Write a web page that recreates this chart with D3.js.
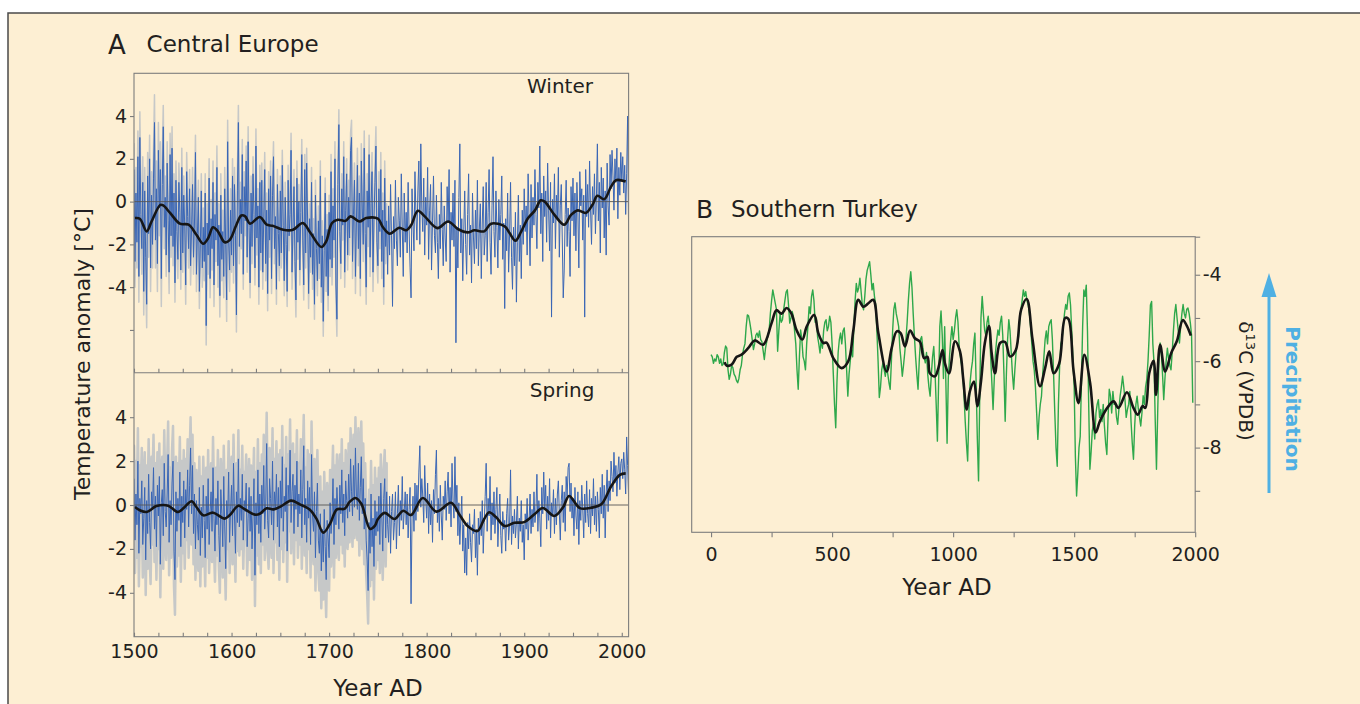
<!DOCTYPE html>
<html>
<head>
<meta charset="utf-8">
<script src="https://cdn.jsdelivr.net/npm/d3@7"></script>
<style>
  body { margin: 0; background: #fff; }
  svg text { font-family: "DejaVu Sans", sans-serif; fill: #231f20; }
</style>
</head>
<body>
<div class="container"></div>
<script>
// Central Europe, annual anomalies 1500-2007 (one row per decade)
const winter = [
  1.5, -2.8, 0.4, -1.9, 2.1, -3.5, 3.0, -0.6, -2.2, 0.9,
  -4.2, 0.5, -2.6, -4.8, 1.2, -1.5, 2.0, -3.1, 0.3, -2.0,
  1.1, 3.7, -1.8, 0.6, -2.9, 2.4, -0.3, 1.5, -3.6, 0.8,
  3.5, -1.2, 0.2, -2.5, 1.8, -0.9, -3.3, 2.2, -1.6, 2.5,
  -2.1, 0.4, -3.8, 1.0, -1.4, -2.7, 0.9, -0.5, -3.2, 1.6,
  -2.4, 0.3, -1.1, -3.9, 1.4, -0.7, -2.2, 0.6, -3.0, -1.3,
  0.8, -2.6, -1.0, 2.3, -3.4, -1.5, 0.2, -4.2, -2.0, 0.5,
  -3.1, -1.2, -2.8, 0.4, -5.8, -1.0, -2.5, 1.1, -3.6, -0.8,
  -2.2, 0.9, -3.9, -0.6, -1.8, 1.6, -3.0, -1.1, -4.4, 0.3,
  -2.7, -1.4, -3.5, 0.6, -2.0, -4.6, 2.8, -1.9, -3.2, -0.4,
  -2.5, 1.2, -3.0, 0.8, -1.6, -5.3, 0.5, 3.7, -2.1, 0.1,
  -1.5, 2.2, -3.4, 0.7, -0.9, 1.9, -2.6, 2.8, -1.2, -3.8,
  0.4, -2.1, 1.3, -0.6, -3.1, 2.6, -1.7, -0.2, -4.0, 0.9,
  -2.4, 1.0, -3.3, -0.8, 1.5, -2.9, -0.4, -4.3, 0.6, -1.8,
  1.2, -3.6, 0.3, 2.1, -2.2, -0.7, -4.1, 0.8, -1.5, -3.0,
  0.5, -2.4, 1.7, -1.1, -3.7, 0.2, -2.0, -4.2, 1.0, -1.6,
  -0.6, 2.4, -3.3, -1.2, 0.7, -2.8, -4.6, 1.1, -1.9, 0.0,
  -3.2, -0.5, 2.2, -1.8, -3.9, 1.5, -2.4, 1.8, -1.0, -4.3,
  -0.8, -2.6, 0.9, -3.4, -1.5, -4.8, 0.3, -2.2, -3.7, -0.9,
  -2.9, 1.2, -4.0, -1.6, -5.6, -2.3, 0.4, -3.5, -1.3, -4.4,
  -0.5, -2.7, 1.4, -3.1, -0.2, -1.8, 2.0, -3.9, -5.5, 0.8,
  3.6, -1.4, -2.9, 0.6, -1.1, 2.1, -3.3, -0.4, 1.3, -2.5,
  0.2, -1.7, 2.4, 3.0, -2.8, -0.6, 1.0, -3.5, -0.9, 1.7,
  -2.2, 0.4, -3.6, 1.9, -0.3, -2.0, 2.5, -1.5, -4.0, 0.5,
  -1.2, 2.2, -2.6, -0.1, 1.4, -3.3, -0.8, 0.9, 2.6, -1.9,
  -3.0, 0.6, -1.4, 1.5, -2.8, -0.4, -4.0, 1.1, -2.1, -0.9,
  -3.4, -0.2, -2.5, 0.8, -1.6, -4.9, -0.7, -2.2, 1.0, -1.8,
  -3.0, 0.2, -0.9, -2.6, 1.3, -1.2, -3.5, 0.4, -1.9, -0.5,
  -2.4, 0.9, -1.3, -3.1, -4.5, 0.6, -1.0, -2.3, 1.4, -0.6,
  -1.8, 0.5, 1.9, -2.0, 2.7, -0.3, -1.4, 1.1, -2.5, 0.2,
  -1.1, 1.6, -2.7, -0.4, 0.8, -3.2, -0.9, 1.2, -1.6, -2.4,
  0.3, -1.9, -3.6, -0.6, -2.2, 0.9, -1.3, -3.0, -0.2, -1.7,
  -2.8, 0.7, -1.0, 1.5, -3.3, -0.5, -1.8, 0.4, -2.1, 1.0,
  -6.6, -1.2, -3.1, 0.2, 2.7, -2.4, -0.8, -3.7, -1.4, 0.5,
  -2.0, -3.4, -0.6, 1.3, -2.5, -1.1, -3.8, 0.4, -1.7, -2.9,
  -0.4, -2.2, 1.0, -3.0, -1.3, -0.1, -3.6, -1.0, 0.7, -2.5,
  -1.6, 0.9, -2.8, -0.5, 1.5, -1.9, -3.4, -0.2, 2.1, -1.4,
  -2.6, 0.5, -1.2, -3.1, 0.1, -1.8, -0.6, 1.2, -2.7, -1.0,
  -5.0, -0.8, -2.3, 0.4, -3.3, -1.5, 0.9, -2.6, -4.1, -1.2,
  -3.0, -0.5, -4.7, -1.9, 0.3, -2.8, -1.1, -3.6, -0.4, -2.0,
  0.6, -1.4, -0.2, -2.5, 1.3, -0.9, -3.0, 0.8, -1.7, 0.2,
  -1.1, 1.5, -0.6, -2.2, 0.9, -0.3, 2.6, -1.5, 0.4, -2.8,
  1.2, -0.7, 0.5, -1.9, 1.8, -0.4, -2.3, 0.9, -5.4, 0.1,
  -1.0, 1.3, -2.2, 0.3, -0.8, 1.6, -2.6, -0.2, 0.8, -1.7,
  -4.5, -3.2, -0.6, 1.0, -2.1, -0.3, -1.4, -3.5, 0.7, -0.9,
  1.1, -1.6, 0.4, -2.3, 0.9, -0.5, -3.1, 1.4, -0.2, 0.6,
  -1.8, 0.3, -5.4, 1.5, -0.7, 0.8, -1.2, 1.9, -0.4, -2.0,
  0.7, -0.6, 1.3, -1.5, 0.2, 2.7, -0.9, 0.9, -2.4, 1.6,
  -0.3, 1.1, -1.7, 0.5, -2.5, 1.8, -0.2, -1.1, 2.2, 0.6,
  2.4, 1.2, -0.4, 2.0, 0.9, 2.5, -0.8, 1.6, 0.3, 2.3,
  1.0, 2.1, 0.4, 1.7, -0.6, 1.3, 4.0, -1.4
];

const spring = [
  1.2, -1.6, 0.5, -0.9, 2.0, -2.2, 0.3, -0.4, 1.1, -1.8,
  -0.6, 0.8, -2.5, 0.2, -1.3, 1.4, -0.8, -2.0, 0.6, -0.2,
  1.7, -1.1, 0.4, -1.9, 0.9, -0.5, 1.3, -2.7, 0.1, 0.7,
  -1.4, 1.9, -0.3, -1.0, 0.5, 2.3, -1.7, 0.2, -0.9, 1.0,
  2.0, -2.1, -3.4, 0.6, -1.2, 0.3, -0.7, 1.5, -1.9, 0.4,
  -0.8, 1.1, -1.5, 0.7, -0.2, 1.6, -1.0, 0.9, 2.6, -0.4,
  1.8, -1.3, 0.5, -2.0, 0.2, -0.9, -1.6, 0.8, -2.3, -0.1,
  -1.5, 0.9, -0.7, -2.4, 0.4, -1.1, 1.2, -1.8, -0.3, 0.6,
  -1.2, 1.7, -0.6, -2.1, 0.3, -0.9, 1.1, -1.4, -2.6, 0.7,
  -0.4, -1.9, 1.3, -1.0, -2.9, 0.2, -0.6, 1.5, -1.7, -0.2,
  0.9, -1.4, 1.9, -0.5, -2.2, 0.6, -0.8, 2.1, -1.0, 0.3,
  -0.7, 1.4, -1.6, 0.2, -0.3, 1.0, -1.9, -0.6, 0.8, -1.2,
  0.4, -2.0, -0.5, 1.2, -3.2, 0.1, -0.9, 1.6, -1.3, 0.5,
  -1.7, 0.9, -0.4, 1.8, -1.1, 0.0, 2.8, -0.7, -1.5, 1.2,
  0.3, -0.9, 2.0, -1.6, 0.6, -0.2, 1.4, -1.0, 0.8, -1.9,
  1.1, -0.6, 2.2, -1.2, 0.4, -0.3, 1.7, -2.1, 0.9, 0.2,
  2.5, -0.8, 0.6, 1.4, -1.3, 0.9, -0.2, 2.0, -1.0, 0.5,
  -0.4, 1.6, -1.5, 0.7, 2.7, -0.9, 0.3, -1.7, 1.1, -0.6,
  0.8, -1.8, 2.3, -0.5, -1.2, 0.6, -2.4, -0.3, 1.0, -1.6,
  -2.2, -0.4, -3.0, -1.1, -2.6, -0.2, -1.9, -3.4, -0.7, -1.5,
  -2.4, 0.1, -1.3, -0.5, 1.2, -1.8, 0.3, -0.9, 0.8, -0.2,
  -1.1, 0.9, -0.4, 1.6, -0.8, 0.5, -1.4, 1.1, 0.2, -0.6,
  1.4, -0.3, 2.1, 0.6, -0.5, 1.8, -0.1, 2.6, 0.4, -0.2,
  1.9, -0.7, 0.8, 2.2, -0.4, 1.2, -1.1, 0.3, -1.6, -2.5,
  -3.9, -0.8, -2.2, 0.5, -1.9, -0.6, -2.8, 0.2, -1.4, -0.3,
  -1.2, 0.4, -1.8, 1.0, -0.5, -2.1, 0.3, 1.2, -1.5, 0.6,
  -0.9, -1.7, 0.4, -2.2, -0.3, 0.5, -1.6, -0.8, 0.6, -2.0,
  -0.4, 0.9, -1.4, 0.2, -0.7, 1.3, -1.1, -0.3, 0.6, -0.9,
  0.5, -1.5, -0.2, 0.8, -4.5, -0.6, 0.4, -1.2, 1.0, -0.7,
  0.9, -0.3, 1.5, 2.7, -0.1, 1.2, 0.4, -0.8, 1.8, 0.3,
  -0.6, 1.0, -1.3, 0.5, -0.9, 0.2, -1.7, 0.7, -0.4, 1.4,
  2.5, -0.8, 0.3, -1.2, 0.9, -0.5, -1.6, 0.4, -0.2, 1.1,
  -0.7, 0.6, 1.5, -0.4, 0.8, -1.0, 1.9, 0.2, -0.6, 2.2,
  -0.3, 0.9, -1.4, 0.1, -1.8, -0.6, 0.4, -2.1, -0.9, -3.1,
  -1.5, -3.2, -0.8, -2.0, -0.4, -1.7, -2.6, -0.9, -1.3, -0.2,
  -2.4, -1.1, -3.2, -0.6, -1.8, -0.3, -1.4, 0.2, -2.2, -0.8,
  0.4, 1.9, -1.2, 0.3, -0.5, 1.3, -1.6, 0.1, -0.9, 0.6,
  -1.3, -0.2, 0.8, -1.9, -0.6, 0.5, -1.4, -2.2, -0.3, -1.1,
  -0.7, -2.1, -0.4, 0.3, -1.6, -0.9, 1.6, -1.8, -0.5, -1.3,
  -0.2, -1.5, -0.8, 0.4, -2.0, -0.6, -1.2, 0.2, -1.7, -0.9,
  -2.5, -0.4, -1.1, 0.3, -1.6, -0.7, 0.5, -1.3, -0.2, -1.0,
  0.6, -0.8, -0.3, 1.4, -1.2, 0.2, -0.6, -1.9, 0.8, -0.4,
  1.5, -0.2, 0.9, -1.1, 0.4, -0.7, 1.2, -1.5, 0.1, -0.5,
  0.7, -1.3, 0.3, -0.9, 0.5, 1.1, -0.4, -1.6, 0.2, 0.9,
  -0.8, 0.6, -1.2, 1.3, 0.4, 1.7, 1.9, -0.3, 1.0, -0.6,
  0.3, -1.4, 0.8, -0.5, -1.1, 0.6, -1.8, 0.2, -0.7, 0.9,
  -0.2, -1.5, 0.5, -0.8, 1.1, -0.4, -1.0, 0.7, -1.3, 0.3,
  -0.5, 1.2, -0.9, 0.4, -1.2, 0.6, -0.2, -1.5, 0.8, -0.4,
  1.4, -0.6, 0.9, -1.5, 0.5, 1.6, -0.3, 1.1, 0.2, 2.0,
  1.3, 0.6, 2.4, 1.0, 1.8, 0.4, 1.5, 2.2, 0.7, 1.9,
  2.1, 1.2, 2.4, 1.6, 0.5, 3.1, 1.8, 0.4
];

// half width of the grey uncertainty band, per decade 1500-1750
const winterUnc = [1.2, 1.1, 1.3, 1.0, 0.9, 0.9, 0.8, 0.9, 1.0, 1.0, 0.8, 0.7, 0.8,
  0.8, 0.7, 0.7, 0.8, 0.7, 0.7, 0.7, 0.8, 0.7, 0.8, 0.8, 0.9, 0.8];
const springUnc = [1.5, 1.6, 1.5, 1.5, 1.6, 1.4, 1.4, 1.3, 1.4, 1.4, 1.3, 1.3, 1.4,
  1.4, 1.5, 1.4, 1.4, 1.4, 1.5, 1.7, 1.5, 1.4, 1.4, 1.6, 1.5, 1.3];

// smoothed curves
const winterSmoothYears = [1501, 1506, 1513, 1518, 1527, 1530, 1537, 1547, 1556, 1564,
  1571, 1576, 1581, 1586, 1593, 1598, 1605, 1610, 1614, 1619,
  1629, 1636, 1642, 1653, 1663, 1673, 1681, 1692, 1697, 1703,
  1709, 1717, 1722, 1731, 1738, 1750, 1755, 1762, 1772, 1779,
  1784, 1791, 1798, 1811, 1822, 1832, 1842, 1849, 1859, 1866,
  1880, 1885, 1891, 1897, 1904, 1911, 1917, 1921, 1931, 1941,
  1948, 1955, 1963, 1970, 1975, 1982, 1989, 1994, 2004];
const winterSmooth = [-0.77, -0.8, -1.39, -0.93, -0.15, -0.18, -0.53, -1.03, -1.08, -1.55,
  -1.97, -1.71, -1.2, -1.39, -1.9, -1.8, -1.08, -0.65, -0.69, -1.03,
  -0.72, -1.08, -1.13, -1.32, -1.32, -1.0, -1.47, -2.12, -1.86, -1.0,
  -0.85, -0.9, -0.69, -0.93, -0.77, -0.8, -1.19, -1.5, -1.22, -1.34,
  -1.11, -0.43, -0.69, -1.24, -0.93, -1.28, -1.44, -1.34, -1.39, -1.03,
  -1.16, -1.47, -1.83, -1.39, -0.77, -0.41, 0.06, 0.0, -0.62, -1.08,
  -0.62, -0.41, -0.53, -0.15, 0.27, 0.11, 0.7, 1.0, 0.94];

const springSmoothYears = [1501, 1506, 1513, 1523, 1535, 1545, 1552, 1559, 1564, 1571,
  1581, 1593, 1598, 1607, 1612, 1624, 1629, 1636, 1643, 1651,
  1661, 1670, 1680, 1687, 1694, 1701, 1708, 1716, 1721, 1727,
  1733, 1742, 1747, 1750, 1757, 1767, 1776, 1784, 1796, 1810,
  1825, 1834, 1842, 1852, 1859, 1864, 1871, 1880, 1890, 1900,
  1911, 1919, 1931, 1940, 1946, 1957, 1969, 1979, 1989, 1998, 2004];
const springSmooth = [-0.09, -0.24, -0.32, -0.05, -0.03, -0.32, -0.09, 0.17, -0.09, -0.47,
  -0.35, -0.62, -0.47, -0.03, -0.15, -0.44, -0.4, -0.15, -0.2, -0.05,
  0.2, 0.03, -0.2, -0.62, -1.26, -0.85, -0.2, -0.17, 0.14, 0.32,
  0.06, -1.09, -0.94, -0.64, -0.36, -0.64, -0.26, -0.46, 0.32, -0.3,
  0.1, -0.47, -0.96, -1.19, -0.64, -0.33, -0.55, -0.96, -0.81, -0.78,
  -0.4, -0.14, -0.5, -0.09, 0.41, -0.14, -0.12, 0.03, 0.84, 1.37, 1.44];

// Southern Turkey d13C, every 5 years from AD 0 to 1990
const turkey = [
  -5.85, -5.9, -6.05, -5.95, -6.0, -5.85, -5.9, -6.05, -5.95, -6.1,
  -6.07, -5.8, -5.65, -5.7, -6.2, -6.42, -6.3, -6.1, -6.15, -6.3,
  -6.35, -6.45, -6.5, -6.4, -6.2, -6.1, -5.85, -5.7, -5.6, -5.2,
  -4.93, -4.95, -5.1, -5.28, -5.5, -5.73, -5.6, -5.4, -5.35, -5.45,
  -5.3, -5.5, -5.55, -5.75, -5.96, -5.7, -5.55, -5.4, -5.28, -4.9,
  -4.6, -4.35, -4.5, -4.65, -4.8, -5.77, -5.3, -4.9, -5.1, -5.04,
  -4.8, -4.6, -4.4, -4.35, -4.7, -5.12, -5.0, -4.85, -4.96, -5.3,
  -5.6, -6.2, -6.65, -5.9, -5.28, -5.5, -5.9, -6.0, -6.2, -5.6,
  -5.2, -4.74, -4.9, -4.5, -4.35, -4.6, -5.1, -5.0, -5.43, -5.6,
  -5.81, -5.5, -5.7, -5.3, -5.1, -5.04, -5.3, -5.2, -4.96, -5.1,
  -5.6, -6.3, -7.0, -7.54, -6.5, -5.8, -5.5, -5.35, -5.6, -5.3,
  -5.23, -5.6, -6.2, -6.81, -6.3, -6.0, -5.73, -5.9, -5.2, -4.6,
  -4.2, -4.4, -4.3, -4.08, -4.4, -4.7, -4.81, -4.5, -4.1, -3.9,
  -3.8, -3.7, -4.0, -4.35, -4.2, -4.5, -4.69, -5.3, -6.0, -6.84,
  -6.6, -6.2, -6.04, -6.2, -6.35, -6.1, -6.3, -6.5, -6.65, -6.0,
  -5.3, -4.8, -4.65, -4.9, -5.04, -5.2, -5.7, -6.0, -6.35, -6.1,
  -5.81, -5.5, -5.1, -4.6, -4.2, -3.93, -4.3, -4.9, -5.43, -5.9,
  -6.3, -6.65, -6.0, -5.5, -5.43, -5.7, -5.9, -6.04, -5.8, -6.3,
  -6.6, -6.81, -6.3, -5.9, -5.66, -6.2, -7.0, -7.85, -6.5, -5.2,
  -4.84, -5.4, -6.4, -5.2, -6.5, -7.9, -6.4, -5.9, -5.5, -5.2,
  -5.5, -5.3, -5.0, -4.81, -5.1, -5.66, -5.9, -6.1, -6.35, -6.8,
  -7.4, -7.9, -8.31, -7.2, -6.5, -6.2, -6.0, -5.6, -5.35, -6.5,
  -7.8, -8.77, -6.8, -5.0, -4.5, -4.9, -5.28, -5.4, -5.1, -4.96,
  -5.3, -5.9, -6.5, -7.12, -6.4, -5.8, -5.5, -5.28, -5.4, -5.1,
  -4.96, -5.4, -6.3, -7.39, -6.3, -5.5, -5.04, -5.3, -5.8, -6.3,
  -6.65, -6.2, -5.8, -5.6, -5.43, -5.1, -4.8, -4.6, -4.35, -4.5,
  -4.39, -4.6, -4.7, -4.89, -5.2, -5.6, -6.0, -6.2, -6.6, -7.2,
  -7.81, -7.3, -7.0, -6.81, -6.3, -5.9, -5.5, -5.3, -5.6, -5.2,
  -5.1, -5.04, -5.5, -6.3, -7.2, -8.0, -8.43, -7.0, -6.1, -5.6,
  -5.5, -5.2, -4.9, -4.69, -4.8, -4.5, -4.42, -4.7, -5.3, -5.96,
  -6.6, -8.2, -9.12, -8.6, -8.0, -7.74, -6.5, -5.2, -4.35, -4.5,
  -4.24, -5.3, -7.0, -8.5, -8.1, -7.6, -7.43, -7.8, -7.2, -7.0,
  -6.89, -7.3, -7.12, -7.4, -7.0, -7.5, -7.9, -8.16, -7.3, -6.65,
  -6.8, -7.2, -6.7, -7.0, -6.96, -7.3, -7.46, -7.1, -6.8, -6.6,
  -6.35, -6.6, -6.9, -7.3, -7.12, -7.0, -6.7, -7.4, -7.9, -8.27,
  -7.5, -7.0, -6.81, -7.1, -7.3, -7.5, -7.2, -6.8, -7.0, -6.6,
  -6.42, -6.0, -5.4, -4.7, -4.62, -5.6, -6.04, -7.4, -8.5, -7.2,
  -6.0, -5.58, -5.8, -6.3, -6.89, -6.4, -6.0, -5.7, -5.93, -6.1,
  -6.2, -5.8, -5.3, -4.9, -4.69, -5.0, -5.3, -5.58, -5.2, -4.9,
  -4.69, -4.9, -5.0, -4.8, -4.77, -4.9, -5.12, -5.4, -6.96
];

const turkeySmoothYears = [56, 64, 85, 106, 126, 153, 181, 215, 250, 270,
  291, 312, 332, 353, 377, 395, 426, 443, 464, 477,
  505, 539, 567, 588, 608, 629, 650, 670, 691, 725,
  746, 767, 783, 801, 822, 842, 863, 880, 894, 904,
  925, 939, 956, 966, 983, 1008, 1028, 1042, 1056, 1069,
  1086, 1100, 1115, 1131, 1148, 1159, 1173, 1194, 1215, 1235,
  1259, 1281, 1304, 1328, 1359, 1380, 1397, 1415, 1438, 1463,
  1476, 1497, 1518, 1542, 1566, 1589, 1607, 1642, 1663, 1683,
  1718, 1745, 1763, 1783, 1794, 1810, 1828, 1838, 1855, 1876,
  1901, 1924, 1949, 1966, 1982];
const turkeySmooth = [-6.02, -6.1, -6.08, -5.9, -5.85, -5.7, -5.52, -5.62, -5.12, -4.82,
  -4.9, -4.77, -4.9, -5.28, -5.5, -5.2, -4.93, -5.35, -5.58, -5.57,
  -5.93, -6.16, -6.0, -5.28, -4.58, -4.74, -4.66, -4.58, -5.35, -6.24,
  -5.7, -5.31, -5.35, -5.66, -5.29, -5.47, -5.55, -5.93, -5.9, -6.28,
  -6.35, -6.16, -5.74, -6.05, -6.28, -5.54, -5.77, -6.43, -7.12, -6.7,
  -6.47, -7.04, -6.47, -5.58, -5.19, -5.81, -6.28, -5.58, -5.56, -5.89,
  -5.74, -4.81, -4.56, -5.5, -6.58, -6.16, -5.77, -6.28, -6.06, -5.0,
  -5.02, -6.2, -6.97, -5.85, -6.51, -7.65, -7.38, -7.04, -6.93, -7.08,
  -6.72, -7.08, -7.24, -7.04, -7.08, -6.28, -5.99, -6.78, -5.62, -6.24,
  -5.81, -5.54, -5.05, -5.19, -5.41];

const tempTicks = [4, 2, 0, -2, -4];
const centuryTicks = [1500, 1600, 1700, 1800, 1900, 2000];
const turkeyYearTicks = [0, 500, 1000, 1500, 2000];
const d13cTicks = [-4, -6, -8];

document.addEventListener("DOMContentLoaded", function () {
  const svg = d3.select(".container")
      .append("svg")
      .attr("width", 1360)
      .attr("height", 704);

  // cream panel with frame
  svg.append("rect")
      .attr("x", 8).attr("y", 13)
      .attr("width", 1400).attr("height", 740)
      .attr("fill", "#fdefd3")
      .attr("stroke", "#4a4a4a")
      .attr("stroke-width", 1.5);

  const axisColor = "#7d7d7d";
  const styleAxis = g => {
    g.selectAll("path, line").attr("stroke", axisColor).attr("stroke-width", 1.1);
    g.selectAll("text").attr("font-size", 19).attr("fill", "#231f20")
        .attr("font-family", "DejaVu Sans");
  };

  // ---------- A: Central Europe ----------
  const xA = d3.scaleLinear().domain([1500, 2007]).range([134, 628.6]);
  const yW = d3.scaleLinear().domain([-8, 6]).range([372.7, 73.3]);
  const yS = d3.scaleLinear().domain([-6, 6]).range([636.7, 373.3]);

  const defs = svg.append("defs");
  defs.append("clipPath").attr("id", "clipW").append("rect")
      .attr("x", 134).attr("y", 73.3).attr("width", 494.6).attr("height", 299.4);
  defs.append("clipPath").attr("id", "clipS").append("rect")
      .attr("x", 134).attr("y", 373.3).attr("width", 494.6).attr("height", 263.4);
  defs.append("clipPath").attr("id", "clipB").append("rect")
      .attr("x", 691.7).attr("y", 236.7).attr("width", 503.5).attr("height", 295.6);

  const drawSeason = (values, unc, smYears, smVals, y, clipId, bandStroke) => {
    const pts = values.map((v, i) => ({ year: 1500 + i, v: v }));
    const band = pts.filter(d => d.year < 1760);
    const u = d => unc[Math.floor((d.year - 1500) / 10)];
    const g = svg.append("g").attr("clip-path", `url(#${clipId})`);

    // grey uncertainty band
    g.append("path")
        .datum(band)
        .attr("fill", "#c6c8c8")
        .attr("stroke", "#c6c8c8")
        .attr("stroke-width", bandStroke)
        .attr("stroke-linejoin", "round")
        .attr("d", d3.area()
            .x(d => xA(d.year))
            .y0(d => y(d.v - u(d)))
            .y1(d => y(d.v + u(d))));

    g.append("path")
        .datum(pts)
        .attr("fill", "none")
        .attr("stroke", "#3a66b5")
        .attr("stroke-width", 1)
        .attr("d", d3.line().x(d => xA(d.year)).y(d => y(d.v)));

    g.append("line")
        .attr("x1", xA(1500)).attr("x2", xA(2007))
        .attr("y1", y(0)).attr("y2", y(0))
        .attr("stroke", "#555").attr("stroke-width", 0.9);

    const sm = smYears.map((yr, i) => ({ year: yr, v: smVals[i] }));
    g.append("path")
        .datum(sm)
        .attr("fill", "none")
        .attr("stroke", "#161616")
        .attr("stroke-width", 2.6)
        .attr("stroke-linejoin", "round")
        .attr("d", d3.line().curve(d3.curveCatmullRom.alpha(0.5))
            .x(d => xA(d.year)).y(d => y(d.v)));
  };

  drawSeason(winter, winterUnc, winterSmoothYears, winterSmooth, yW, "clipW", 1.5);
  drawSeason(spring, springUnc, springSmoothYears, springSmooth, yS, "clipS", 2.5);

  // frames of panel A
  svg.append("rect")
      .attr("x", 134).attr("y", 73.3).attr("width", 494.6).attr("height", 563.4)
      .attr("fill", "none").attr("stroke", axisColor).attr("stroke-width", 1.1);
  svg.append("line")
      .attr("x1", 134).attr("x2", 628.6).attr("y1", 372.7).attr("y2", 372.7)
      .attr("stroke", axisColor).attr("stroke-width", 1.1);

  // y axes
  svg.append("g")
      .attr("transform", "translate(134,0)")
      .call(d3.axisLeft(yW).tickValues(tempTicks.concat([-6])).tickSize(4).tickSizeOuter(0)
          .tickPadding(3).tickFormat(d => d === -6 ? "" : String(d)))
      .call(styleAxis);
  svg.append("g")
      .attr("transform", "translate(134,0)")
      .call(d3.axisLeft(yS).tickValues(tempTicks).tickSize(4).tickSizeOuter(0)
          .tickPadding(3).tickFormat(d => String(d)))
      .call(styleAxis);

  // x axes (ticks every 25 years, pointing inwards)
  const quarterTicks = d3.range(1500, 2001, 25);
  svg.append("g")
      .attr("transform", "translate(0,372.7)")
      .call(d3.axisBottom(xA).tickValues(quarterTicks).tickSize(-4).tickSizeOuter(0)
          .tickFormat(""))
      .call(styleAxis);
  svg.append("g")
      .attr("transform", "translate(0,636.7)")
      .call(d3.axisBottom(xA).tickValues(quarterTicks).tickSize(-4).tickSizeOuter(0)
          .tickPadding(8).tickFormat(d => centuryTicks.includes(d) ? String(d) : ""))
      .call(styleAxis);

  svg.selectAll(".domain").remove();

  // ---------- B: Southern Turkey ----------
  const xB = d3.scaleLinear().domain([-80, 2000]).range([691.7, 1195.2]);
  const yB = d3.scaleLinear().domain([-9.96, -3.12]).range([532.3, 236.7]);

  const gB = svg.append("g").attr("clip-path", "url(#clipB)");
  gB.append("path")
      .datum(turkey.map((v, i) => ({ year: i * 5, v: v })))
      .attr("fill", "none")
      .attr("stroke", "#2ea84b")
      .attr("stroke-width", 1.4)
      .attr("stroke-linejoin", "round")
      .attr("d", d3.line().x(d => xB(d.year)).y(d => yB(d.v)));

  gB.append("path")
      .datum(turkeySmoothYears.map((yr, i) => ({ year: yr, v: turkeySmooth[i] })))
      .attr("fill", "none")
      .attr("stroke", "#161616")
      .attr("stroke-width", 2.6)
      .attr("stroke-linejoin", "round")
      .attr("d", d3.line().curve(d3.curveCatmullRom.alpha(0.5))
          .x(d => xB(d.year)).y(d => yB(d.v)));

  svg.append("rect")
      .attr("x", 691.7).attr("y", 236.7).attr("width", 503.5).attr("height", 295.6)
      .attr("fill", "none").attr("stroke", axisColor).attr("stroke-width", 1.1);

  svg.append("g")
      .attr("transform", "translate(0,532.3)")
      .call(d3.axisBottom(xB).tickValues(d3.range(0, 2001, 250)).tickSize(5).tickSizeOuter(0)
          .tickPadding(10).tickFormat(d => turkeyYearTicks.includes(d) ? String(d) : ""))
      .call(styleAxis)
      .call(g => g.select(".domain").remove());

  svg.append("g")
      .attr("transform", "translate(1195.2,0)")
      .call(d3.axisRight(yB).tickValues([-9, -8, -7, -6, -5, -4, -3.12]).tickSize(5).tickSizeOuter(0)
          .tickPadding(2.5).tickFormat(d => d13cTicks.includes(d) ? String(d) : ""))
      .call(styleAxis)
      .call(g => g.select(".domain").remove());

  // ---------- texts ----------
  const txt = (x, y, s, size, extra) => {
    const t = svg.append("text").attr("x", x).attr("y", y)
        .attr("font-size", size).text(s);
    if (extra) extra(t);
    return t;
  };

  txt(108, 54, "A", 26);
  txt(146.6, 52, "Central Europe", 23);
  txt(696, 218, "B", 25);
  txt(731, 217, "Southern Turkey", 23);
  txt(527, 93, "Winter", 20);
  txt(529.8, 397, "Spring", 20);
  txt(378, 696, "Year AD", 23, t => t.attr("text-anchor", "middle"));
  txt(947, 595, "Year AD", 23, t => t.attr("text-anchor", "middle"));

  svg.append("text")
      .attr("transform", "translate(90,354) rotate(-90)")
      .attr("text-anchor", "middle")
      .attr("font-size", 22)
      .text("Temperature anomaly [°C]");

  const dl = svg.append("text")
      .attr("transform", "translate(1239,381) rotate(90)")
      .attr("text-anchor", "middle")
      .attr("font-size", 20);
  dl.append("tspan").text("δ");
  dl.append("tspan").attr("font-size", 13).attr("dy", -7).text("13");
  dl.append("tspan").attr("dy", 7).text("C (VPDB)");

  // precipitation arrow
  const blue = "#4fb0e3";
  svg.append("line")
      .attr("x1", 1269).attr("x2", 1269).attr("y1", 493).attr("y2", 292)
      .attr("stroke", blue).attr("stroke-width", 3);
  svg.append("path")
      .attr("d", "M1269,273 L1276.5,297 L1261.5,297 Z")
      .attr("fill", blue);
  svg.append("text")
      .attr("transform", "translate(1286,399) rotate(90)")
      .attr("text-anchor", "middle")
      .attr("font-size", 20)
      .attr("font-weight", "bold")
      .style("fill", blue)
      .text("Precipitation");
});
</script>
</body>
</html>
